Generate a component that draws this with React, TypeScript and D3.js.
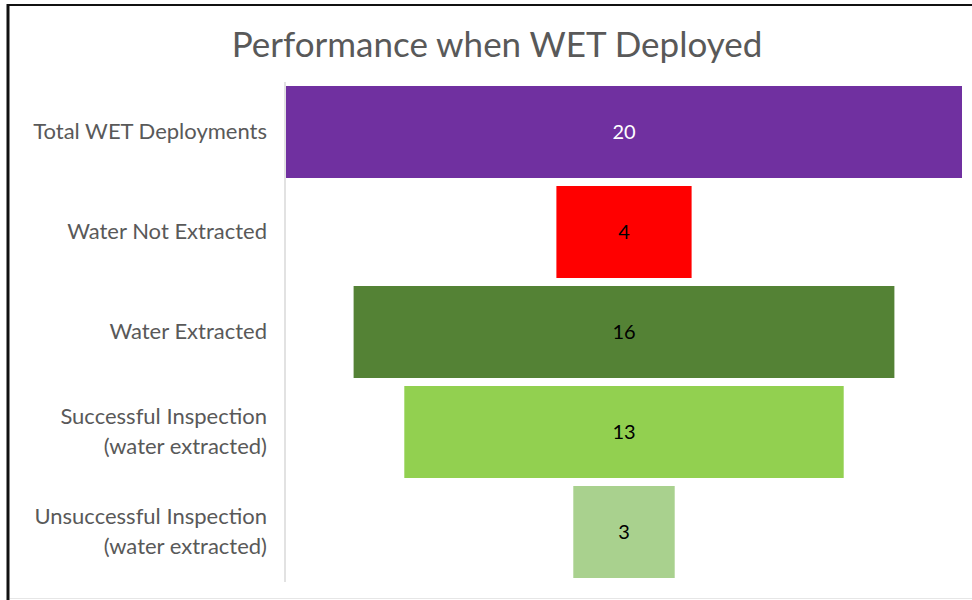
import React from 'react';
import * as d3 from 'd3';

const categories = [
  'Total WET Deployments',
  'Water Not Extracted',
  'Water Extracted',
  'Successful Inspection (water extracted)',
  'Unsuccessful Inspection (water extracted)',
];
const labelLines = [
  ['Total WET Deployments'],
  ['Water Not Extracted'],
  ['Water Extracted'],
  ['Successful Inspection', '(water extracted)'],
  ['Unsuccessful Inspection', '(water extracted)'],
];
const values = [20, 4, 16, 13, 3];
const colors = ['#7030A0', '#FF0000', '#548235', '#92D050', '#A9D18E'];
const valueColors = ['#ffffff', '#000000', '#000000', '#000000', '#000000'];

const width = 972;
const height = 600;
const font = 'Lato, "Open Sans", sans-serif';

const App: React.FC = () => {
  const axisX = 285;
  const plotRight = 962;
  const center = (axisX + 1 + plotRight) / 2;

  const x = d3.scaleLinear().domain([0, 20]).range([0, plotRight - axisX - 1]);
  const y = d3.scaleBand<string>()
    .domain(categories)
    .range([82, 582])
    .paddingInner(0.08)
    .paddingOuter(0.04);

  return (
    <svg
      width={width}
      height={height}
      style={{ position: 'absolute', left: 0, top: 0, background: '#fff' }}
    >
      {/* frame */}
      <line x1={8} y1={5} x2={width} y2={5} stroke="#111" strokeWidth={2} />
      <line x1={8} y1={4} x2={8} y2={height} stroke="#111" strokeWidth={3} />
      <line x1={10} y1={598.5} x2={width} y2={598.5} stroke="#e6e6e6" strokeWidth={1} />

      <text
        x={497}
        y={57}
        textAnchor="middle"
        fontFamily={font}
        fontSize={35}
        fill="#595959"
      >
        Performance when WET Deployed
      </text>

      {categories.map((c, i) => {
        const bw = x(values[i]);
        const by = y(c) as number;
        return (
          <g key={c}>
            <rect
              x={center - bw / 2}
              y={by}
              width={bw}
              height={y.bandwidth()}
              fill={colors[i]}
            />
            <text
              x={center}
              y={by + y.bandwidth() / 2}
              dy="0.35em"
              textAnchor="middle"
              fontFamily={font}
              fontSize={20}
              fill={valueColors[i]}
            >
              {values[i]}
            </text>
            <text
              x={267}
              y={by + y.bandwidth() / 2 + 7}
              textAnchor="end"
              fontFamily={font}
              fontSize={22}
              fill="#595959"
            >
              {labelLines[i].map((l, j) => (
                <tspan
                  key={j}
                  x={267}
                  dy={j === 0 ? -(labelLines[i].length - 1) * 15 : 30}
                >
                  {l}
                </tspan>
              ))}
            </text>
          </g>
        );
      })}

      {/* category axis line */}
      <line x1={axisX} y1={82} x2={axisX} y2={582} stroke="#d9d9d9" strokeWidth={1.5} />
    </svg>
  );
};

export default App;
